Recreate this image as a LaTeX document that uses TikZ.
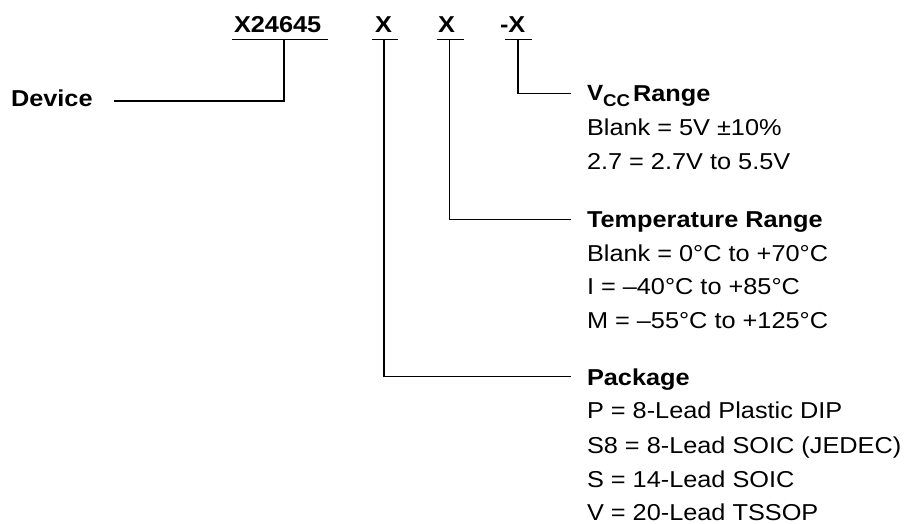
\documentclass[tikz,border=0pt]{standalone}
\usepackage{fontspec}
\setmainfont{Liberation Sans}[FakeStretch=1.1]
\begin{document}
\begin{tikzpicture}[x=1pt,y=-1pt,
  lab/.style={inner sep=0pt,outer sep=0pt,anchor=base west,font=\fontsize{23}{34}\selectfont},
  hd/.style={lab,font=\fontsize{23}{34}\selectfont\bfseries},
  wire/.style={line width=1.2pt,black}]
\useasboundingbox[fill=white] (0,0) rectangle (909,524);
% part number fields
\node[hd] (pn) at (234,32.3) {X24645};
\node[hd] (f1) at (375,32.3) {X};
\node[hd] (f2) at (438,32.3) {X};
\node[hd] (f3) at (500,32.3) {-X};
% underlines
\draw[wire] (232,39.3) -- (328,39.3);
\draw[wire] (372,39.3) -- (397.5,39.3);
\draw[wire] (436.5,39.3) -- (463.5,39.3);
\draw[wire] (505,39.3) -- (531.5,39.3);
% connector start points
\coordinate (c0) at (284,39.3);
\coordinate (c1) at (384,39.3);
\coordinate (c2) at (449.5,39.3);
\coordinate (c3) at (518,39.3);
% free ends
\coordinate (e0) at (114,101);
\coordinate (e1) at (571,376.7);
\coordinate (e2) at (571,219.3);
\coordinate (e3) at (571,93.3);
\draw[wire] (c0) |- (e0);
\draw[wire] (c1) |- (e1);
\draw[wire] (c2) |- (e2);
\draw[wire] (c3) |- (e3);
% device
\node[hd] (dev) at (11,106.7) {Device};
% Vcc block
\node[hd] (vcc) at (587,101.6) {\raisebox{1pt}{\fontsize{22}{22}\selectfont\bfseries V}\raisebox{-5pt}{\fontsize{17}{17}\selectfont\bfseries CC}\hspace{3pt}Range};
\node[lab] (v1) at (587,135.8) {Blank = 5V ±10\%};
\node[lab] (v2) at (587,169.6) {2.7 = 2.7V to 5.5V};
% temperature block
\node[hd] (tmp) at (587,227.2) {Temperature Range};
\node[lab] (t1) at (587,261) {Blank = 0°C to +70°C};
\node[lab] (t2) at (587,294.6) {I = –40°C to +85°C};
\node[lab] (t3) at (587,328.2) {M = –55°C to +125°C};
% package block
\node[hd] (pkg) at (587,385) {Package};
\node[lab] (p1) at (587,418.5) {P = 8-Lead Plastic DIP};
\node[lab] (p2) at (587,453) {S8 = 8-Lead SOIC (JEDEC)};
\node[lab] (p3) at (587,487.5) {S = 14-Lead SOIC};
\node[lab] (p4) at (587,520.5) {V = 20-Lead TSSOP};
\end{tikzpicture}
\end{document}
